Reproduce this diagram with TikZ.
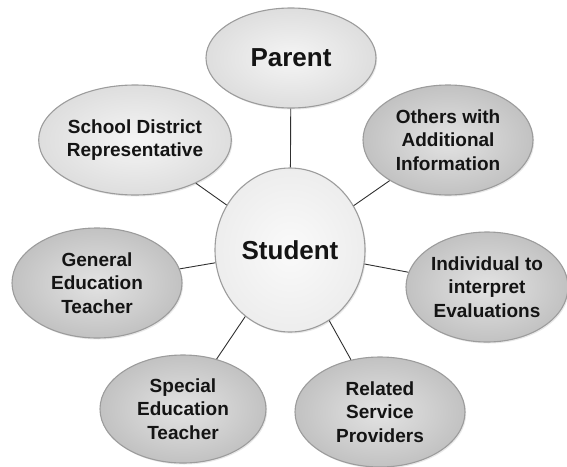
\documentclass[tikz,border=0pt]{standalone}
\usepackage{fontspec}
\setmainfont{Liberation Sans}
\usetikzlibrary{shapes.geometric,shadows}
\definecolor{rim}{HTML}{9C9C9C}
\definecolor{txt}{HTML}{141414}
\definecolor{lnk}{HTML}{303030}
\tikzset{
  bub/.style={ellipse, inner sep=0pt, draw=rim, line width=1.1pt, align=center,
    text=txt, font=\fontsize{19}{23.5}\selectfont\bfseries,
    drop shadow={opacity=0.18, shadow xshift=1.2pt, shadow yshift=-1.5pt}},
  darkbub/.style={bub, inner color=gray!22, outer color=gray!48},
  lightbub/.style={bub, inner color=gray!8, outer color=gray!26},
  centerbub/.style={bub, inner color=gray!4, outer color=gray!14, font=\fontsize{26}{30}\selectfont\bfseries},
  link/.style={draw=lnk, line width=0.9pt}
}
\begin{document}
\begin{tikzpicture}[x=1pt,y=-1pt]
\useasboundingbox (0,0) rectangle (567,466);
\node[lightbub, minimum width=170pt, minimum height=100pt, font=\fontsize{26}{30}\selectfont\bfseries] (par) at (291,58) {Parent};
\node[darkbub, minimum width=170pt, minimum height=110pt] (oth) at (448,140) {Others with\\Additional\\Information};
\node[lightbub, minimum width=170pt, minimum height=110pt] (sch) at (135,140) {School District\\Representative};
\node[darkbub, minimum width=170pt, minimum height=110pt] (gen) at (97,283) {General\\Education\\Teacher};
\node[centerbub, minimum width=150pt, minimum height=164pt] (stu) at (290,250) {Student};
\node[darkbub, minimum width=162pt, minimum height=110pt] (ind) at (487,287) {Individual to\\interpret\\Evaluations};
\node[darkbub, minimum width=166pt, minimum height=108pt] (spe) at (183,409) {Special\\Education\\Teacher};
\node[darkbub, minimum width=170pt, minimum height=110pt] (rel) at (380,412) {Related\\Service\\Providers};
\draw[link] (stu) -- (par);
\draw[link] (stu) -- (oth);
\draw[link] (stu) -- (sch);
\draw[link] (stu) -- (gen);
\draw[link] (stu) -- (ind);
\draw[link] (stu) -- (spe);
\draw[link] (stu) -- (rel);
\end{tikzpicture}
\end{document}
